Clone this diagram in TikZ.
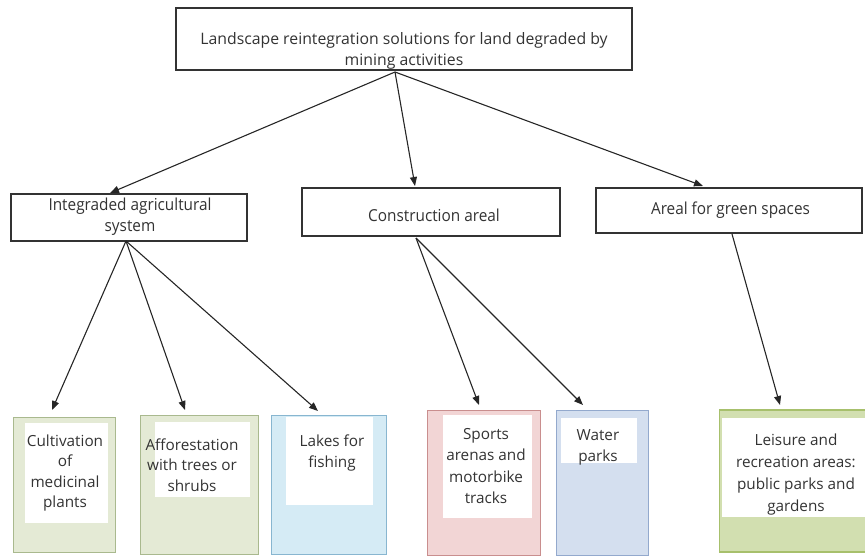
\documentclass[tikz,border=0pt]{standalone}
\usepackage{fontspec}
\setmainfont{Open Sans}
\usetikzlibrary{arrows.meta}
\definecolor{txtc}{HTML}{333333}
\definecolor{greenfill}{HTML}{E4EAD5}
\definecolor{greenline}{HTML}{A9B98E}
\definecolor{bluefill}{HTML}{D5EBF5}
\definecolor{blueline}{HTML}{88B6D0}
\definecolor{pinkfill}{HTML}{F2D5D5}
\definecolor{pinkline}{HTML}{C98E8E}
\definecolor{waterfill}{HTML}{D4DFEF}
\definecolor{waterline}{HTML}{93A9CD}
\definecolor{leisfill}{HTML}{D2DFB0}
\definecolor{leisline}{HTML}{A7C06C}
\newcommand{\cond}[1]{\scalebox{0.93}[1]{#1}}
\begin{document}
\begin{tikzpicture}[x=1pt,y=-1pt,
  frame/.style={draw=black!80, line width=1.2pt, fill=white, inner sep=0pt},
  outer/.style={line width=1pt, inner sep=0pt},
  inner/.style={fill=white, draw=none, inner sep=0pt},
  label/.style={text=txtc, align=center, inner sep=0pt, font=\fontsize{15.3}{20.5}\selectfont},
  midlabel/.style={text=txtc, align=center, inner sep=0pt, font=\fontsize{16.5}{21}\selectfont},
  arr/.style={-{Triangle[length=9pt,width=7pt]}, line width=1.1pt, draw=black!85}]
\useasboundingbox (0,0) rectangle (865,557);

% top
\node[frame, minimum width=456pt, minimum height=62pt] (top) at (404,39) {};
\node[label, font=\fontsize{15.8}{21.5}\selectfont] (toptxt) at (404,51) {Landscape reintegration solutions for land degraded by\\mining activities};

% middle
\node[frame, minimum width=236pt, minimum height=47pt] (integ) at (129,217.5) {};
\node[midlabel] (integtxt) at (130,217) {\cond{Integraded agricultural}\\\cond{system}};
\node[frame, minimum width=258pt, minimum height=48pt] (constr) at (431,212) {};
\node[midlabel] (constrtxt) at (434,215) {\cond{Construction areal}};
\node[frame, minimum width=266pt, minimum height=45pt] (areal) at (729,210.5) {};
\node[midlabel] (arealtxt) at (730.5,210) {\cond{Areal for green spaces}};

% bottom outer boxes
\node[outer, draw=greenline, fill=greenfill, minimum width=102pt, minimum height=135pt] (cult) at (64,484.5) {};
\node[outer, draw=greenline, fill=greenfill, minimum width=118pt, minimum height=139pt] (affo) at (199,484.5) {};
\node[outer, draw=blueline, fill=bluefill, minimum width=115pt, minimum height=139pt] (lakes) at (328.5,484.5) {};
\node[outer, draw=pinkline, fill=pinkfill, minimum width=113pt, minimum height=145pt] (sports) at (483.5,482.5) {};
\node[outer, draw=waterline, fill=waterfill, minimum width=92pt, minimum height=145pt] (water) at (602,482.5) {};
\node[outer, draw=leisline, fill=leisfill, line width=1.5pt, minimum width=147pt, minimum height=142pt] (leis) at (793,481) {};

% inner white patches
\node[inner, minimum width=83pt, minimum height=100pt] (cultw) at (66.5,473) {};
\node[inner, minimum width=95pt, minimum height=75pt] (affow) at (202.5,459.5) {};
\node[inner, minimum width=87pt, minimum height=88pt] (lakesw) at (329.5,461) {};
\node[inner, minimum width=89pt, minimum height=103pt] (sportsw) at (487.5,466.5) {};
\node[inner, minimum width=76pt, minimum height=45pt] (waterw) at (599,440.5) {};
\node[inner, minimum width=143pt, minimum height=99pt] (leisw) at (793.5,467.5) {};

% bottom texts
\node[label] (culttxt) at (65,473) {Cultivation\\of\\medicinal\\plants};
\node[label] (affotxt) at (192,465) {Afforestation\\with trees or\\shrubs};
\node[label] (lakestxt) at (332,453) {Lakes for\\fishing};
\node[label, font=\fontsize{15.3}{21.5}\selectfont] (sportstxt) at (486,466) {Sports\\arenas and\\motorbike\\tracks};
\node[label, font=\fontsize{15.3}{21}\selectfont] (watertxt) at (598,447.5) {Water\\parks};
\node[label, font=\fontsize{15.3}{22}\selectfont] (leistxt) at (796,475) {Leisure and\\recreation areas:\\public parks and\\gardens};

% connector end points
\coordinate (topsrc) at (395,72);
\coordinate (integsrc) at (126,241);
\coordinate (constrsrc) at (416,238);
\coordinate (arealsrc) at (732,234);
\coordinate (integtip) at (110,193);
\coordinate (constrtip) at (415,186);
\coordinate (arealtip) at (703,186);
\coordinate (culttip) at (52,410);
\coordinate (affotip) at (185,410);
\coordinate (lakestip) at (318,411);
\coordinate (sportstip) at (479,405);
\coordinate (watertip) at (583,405);
\coordinate (leistip) at (780,405);

\draw[arr] (topsrc) -- (integtip);
\draw[arr] (topsrc) -- (constrtip);
\draw[arr] (topsrc) -- (arealtip);
\draw[arr] (integsrc) -- (culttip);
\draw[arr] (integsrc) -- (affotip);
\draw[arr] (integsrc) -- (lakestip);
\draw[arr] (constrsrc) -- (sportstip);
\draw[arr] (constrsrc) -- (watertip);
\draw[arr] (arealsrc) -- (leistip);
\end{tikzpicture}
\end{document}
